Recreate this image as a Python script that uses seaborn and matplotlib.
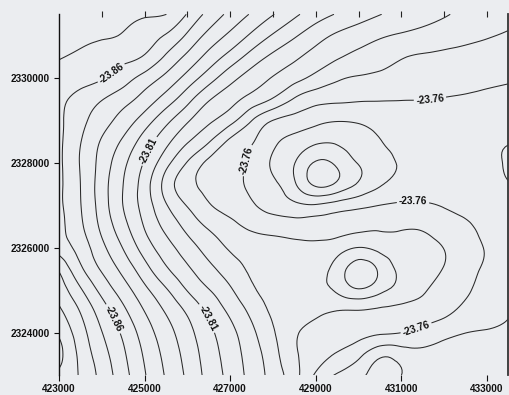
import numpy as np
import matplotlib
matplotlib.use("Agg")
import matplotlib.pyplot as plt
import matplotlib.tri as mtri
import seaborn as sns

easting = [423000, 423500, 424000, 424500, 425000, 425500, 426000, 426500,
           427000, 427500, 428000, 428500, 429000, 429500, 430000, 430500,
           431000, 431500, 432000, 432500, 433000, 433500]
northing = [2323000, 2323500, 2324000, 2324500, 2325000, 2325500, 2326000,
            2326500, 2327000, 2327500, 2328000, 2328500, 2329000, 2329500,
            2330000, 2330500, 2331000, 2331500]

row_2323000 = [-23.897, -23.8889, -23.8767, -23.8639, -23.8508, -23.8391, -23.8281, -23.8166, -23.8067, -23.7966, -23.7858, -23.7737, -23.7583, -23.7489, -23.7422, -23.738, -23.74, -23.7418, -23.7425, -23.743, -23.7438, -23.7445]
row_2323500 = [-23.903, -23.8874, -23.8741, -23.8616, -23.8487, -23.8372, -23.8263, -23.8151, -23.8053, -23.7951, -23.7838, -23.7716, -23.7648, -23.7592, -23.753, -23.7425, -23.7445, -23.747, -23.746, -23.7455, -23.7455, -23.746]
row_2324000 = [-23.8985, -23.8844, -23.8704, -23.8582, -23.8454, -23.8342, -23.8236, -23.8127, -23.803, -23.7924, -23.7811, -23.7716, -23.766, -23.764, -23.7625, -23.761, -23.7598, -23.7568, -23.7528, -23.75, -23.749, -23.748]
row_2324500 = [-23.892, -23.8796, -23.8652, -23.8525, -23.84, -23.8292, -23.8186, -23.8079, -23.7981, -23.7875, -23.7785, -23.7755, -23.7725, -23.7695, -23.769, -23.768, -23.7666, -23.7654, -23.7625, -23.757, -23.7545, -23.751]
row_2325000 = [-23.886, -23.8715, -23.8571, -23.845, -23.8327, -23.8213, -23.8097, -23.8006, -23.7915, -23.7818, -23.7765, -23.776, -23.7772, -23.7815, -23.7885, -23.7825, -23.7763, -23.7711, -23.7663, -23.7614, -23.7565, -23.7535]
row_2325500 = [-23.8788, -23.8621, -23.8488, -23.837, -23.8239, -23.8115, -23.8017, -23.7929, -23.7848, -23.7785, -23.776, -23.776, -23.7775, -23.7841, -23.7955, -23.7878, -23.7778, -23.7736, -23.7695, -23.7636, -23.7585, -23.7555]
row_2326000 = [-23.866, -23.8559, -23.8427, -23.8296, -23.8156, -23.8042, -23.7947, -23.7859, -23.779, -23.7755, -23.774, -23.7728, -23.7727, -23.7756, -23.7805, -23.7771, -23.775, -23.7735, -23.7698, -23.7642, -23.7593, -23.7555]
row_2326500 = [-23.863, -23.8519, -23.8378, -23.8235, -23.8094, -23.7974, -23.7872, -23.7788, -23.7731, -23.7682, -23.766, -23.7649, -23.765, -23.7658, -23.7676, -23.7687, -23.7689, -23.7687, -23.765, -23.7615, -23.7575, -23.755]
row_2327000 = [-23.862, -23.8504, -23.8353, -23.8198, -23.8059, -23.7909, -23.7794, -23.7709, -23.766, -23.7612, -23.7565, -23.7525, -23.7512, -23.7546, -23.7576, -23.7602, -23.7616, -23.7614, -23.7594, -23.7575, -23.7555, -23.7535]
row_2327500 = [-23.862, -23.85, -23.8348, -23.82, -23.8049, -23.7863, -23.7732, -23.7669, -23.7629, -23.7581, -23.7519, -23.7414, -23.7282, -23.7319, -23.7413, -23.749, -23.753, -23.7545, -23.755, -23.7545, -23.7525, -23.7503]
row_2328000 = [-23.862, -23.8494, -23.8363, -23.8224, -23.809, -23.7933, -23.7792, -23.7677, -23.7634, -23.7578, -23.7488, -23.7403, -23.7288, -23.7321, -23.7405, -23.7466, -23.7508, -23.7525, -23.753, -23.7525, -23.7512, -23.7495]
row_2328500 = [-23.862, -23.8504, -23.8389, -23.8282, -23.8152, -23.8028, -23.7907, -23.7806, -23.7677, -23.7608, -23.752, -23.7465, -23.7415, -23.7412, -23.745, -23.7496, -23.752, -23.753, -23.7535, -23.753, -23.7515, -23.7503]
row_2329000 = [-23.862, -23.8529, -23.8443, -23.8358, -23.8252, -23.8128, -23.8013, -23.7916, -23.7835, -23.7702, -23.7598, -23.7564, -23.7527, -23.7505, -23.7512, -23.7535, -23.7548, -23.7552, -23.7553, -23.7552, -23.7548, -23.754]
row_2329500 = [-23.862, -23.8569, -23.8505, -23.844, -23.836, -23.8256, -23.8134, -23.801, -23.7936, -23.7863, -23.779, -23.769, -23.7635, -23.762, -23.7611, -23.7607, -23.7604, -23.7602, -23.7595, -23.7588, -23.758, -23.7575]
row_2330000 = [-23.866, -23.8634, -23.8608, -23.8546, -23.8462, -23.8373, -23.8262, -23.8145, -23.8035, -23.7955, -23.7894, -23.7833, -23.7771, -23.7715, -23.7691, -23.768, -23.7668, -23.7656, -23.7645, -23.7633, -23.7621, -23.761]
row_2330500 = [-23.8705, -23.8683, -23.8654, -23.8626, -23.8591, -23.8485, -23.8377, -23.8265, -23.8163, -23.806, -23.7978, -23.7918, -23.7862, -23.7811, -23.7772, -23.7739, -23.7706, -23.7691, -23.7681, -23.767, -23.766, -23.765]
row_2331000 = [-23.874, -23.8726, -23.8711, -23.8691, -23.8643, -23.8592, -23.8484, -23.837, -23.8278, -23.8182, -23.809, -23.8013, -23.7941, -23.7886, -23.7849, -23.7813, -23.7788, -23.7767, -23.7748, -23.7728, -23.7708, -23.769]
row_2331500 = [-23.876, -23.8748, -23.8736, -23.8725, -23.8713, -23.8701, -23.8592, -23.847, -23.8373, -23.8289, -23.8205, -23.812, -23.805, -23.7992, -23.7946, -23.7903, -23.7871, -23.7839, -23.7808, -23.778, -23.7755, -23.773]

labelled_levels = [-23.86, -23.81, -23.76]
x_tick_values = [423000, 425000, 427000, 429000, 431000, 433000]
x_tick_labels = ["423000", "425000", "427000", "429000", "431000", "433000"]
y_tick_values = [2324000, 2326000, 2328000, 2330000]
y_tick_labels = ["2324000", "2326000", "2328000", "2330000"]

# ---------------- style ----------------
sns.set_theme(style="ticks")
plt.rcParams["font.family"] = ["Liberation Sans", "DejaVu Sans"]
plt.rcParams["contour.negative_linestyle"] = "solid"
paper = "#ebedf0"
ink = "#2a2a2a"

fig = plt.figure(figsize=(5.10, 3.95), dpi=100)
fig.patch.set_facecolor(paper)
ax = fig.add_axes([0.11569, 0.04937, 0.88118, 0.91443])
ax.set_facecolor(paper)

rows = [row_2323000, row_2323500, row_2324000, row_2324500, row_2325000,
        row_2325500, row_2326000, row_2326500, row_2327000, row_2327500,
        row_2328000, row_2328500, row_2329000, row_2329500, row_2330000,
        row_2330500, row_2331000, row_2331500]
Z = np.array(rows, dtype=float)
GX, GY = np.meshgrid(np.array(easting, float), np.array(northing, float))
nx, ny = len(easting), len(northing)
tris = []
for j in range(ny - 1):
    for i in range(nx - 1):
        a = j * nx + i
        b, c = a + 1, a + nx
        d = c + 1
        tris.append([a, b, d])
        tris.append([a, d, c])
tri = mtri.Triangulation(GX.ravel(), GY.ravel(), np.array(tris))
tri_f, z_f = mtri.UniformTriRefiner(tri).refine_field(Z.ravel(), subdiv=3)

all_levels = np.round(np.arange(-23.90, -23.715, 0.01), 2)
plain_levels = [v for v in all_levels
                if not any(abs(v - L) < 1e-6 for L in labelled_levels)]
ax.tricontour(tri_f, z_f, levels=plain_levels, colors=ink, linewidths=0.75,
              linestyles="solid")
cs_lab = ax.tricontour(tri_f, z_f, levels=labelled_levels, colors=ink,
                       linewidths=0.75, linestyles="solid")

label_spots = [(424355, 2329950), (424310, 2324353), (425056, 2328305),
               (426600, 2324420), (427390, 2328070), (431670, 2329480),
               (431270, 2327200), (431360, 2324070)]
txts = ax.clabel(cs_lab, fmt="%.2f", fontsize=7.2, inline=True,
                 inline_spacing=2, manual=label_spots)
for t in txts:
    t.set_color("#111111")
    t.set_fontweight("bold")

ax.set_xlim(423000, 433500)
ax.set_ylim(2323000, 2331500)
ax.set_xticks(x_tick_values)
ax.set_xticklabels(x_tick_labels, fontweight="bold")
ax.set_yticks(y_tick_values)
ax.set_yticklabels(y_tick_labels, fontweight="bold")
ax.tick_params(axis="x", direction="out", length=4.5, width=0.8, pad=1.5,
               labelsize=7.2, colors="#111111", bottom=True, top=False)
ax.tick_params(axis="y", direction="out", length=3.5, width=0.8, pad=3,
               labelsize=7.2, colors="#111111", left=True, right=False)

top = ax.secondary_xaxis("top")
top.set_xticks(list(range(424000, 434000, 1000)))
top.tick_params(direction="inout", length=5, width=0.8, labeltop=False,
                colors="#222222")
top.spines["top"].set_visible(False)

for s in ["top", "bottom"]:
    ax.spines[s].set_visible(False)
ax.spines["left"].set_color("#111111")
ax.spines["left"].set_linewidth(1.0)
ax.spines["right"].set_color("#333333")
ax.spines["right"].set_linewidth(1.3)

fig.savefig("out.png", dpi=100, facecolor=paper)
